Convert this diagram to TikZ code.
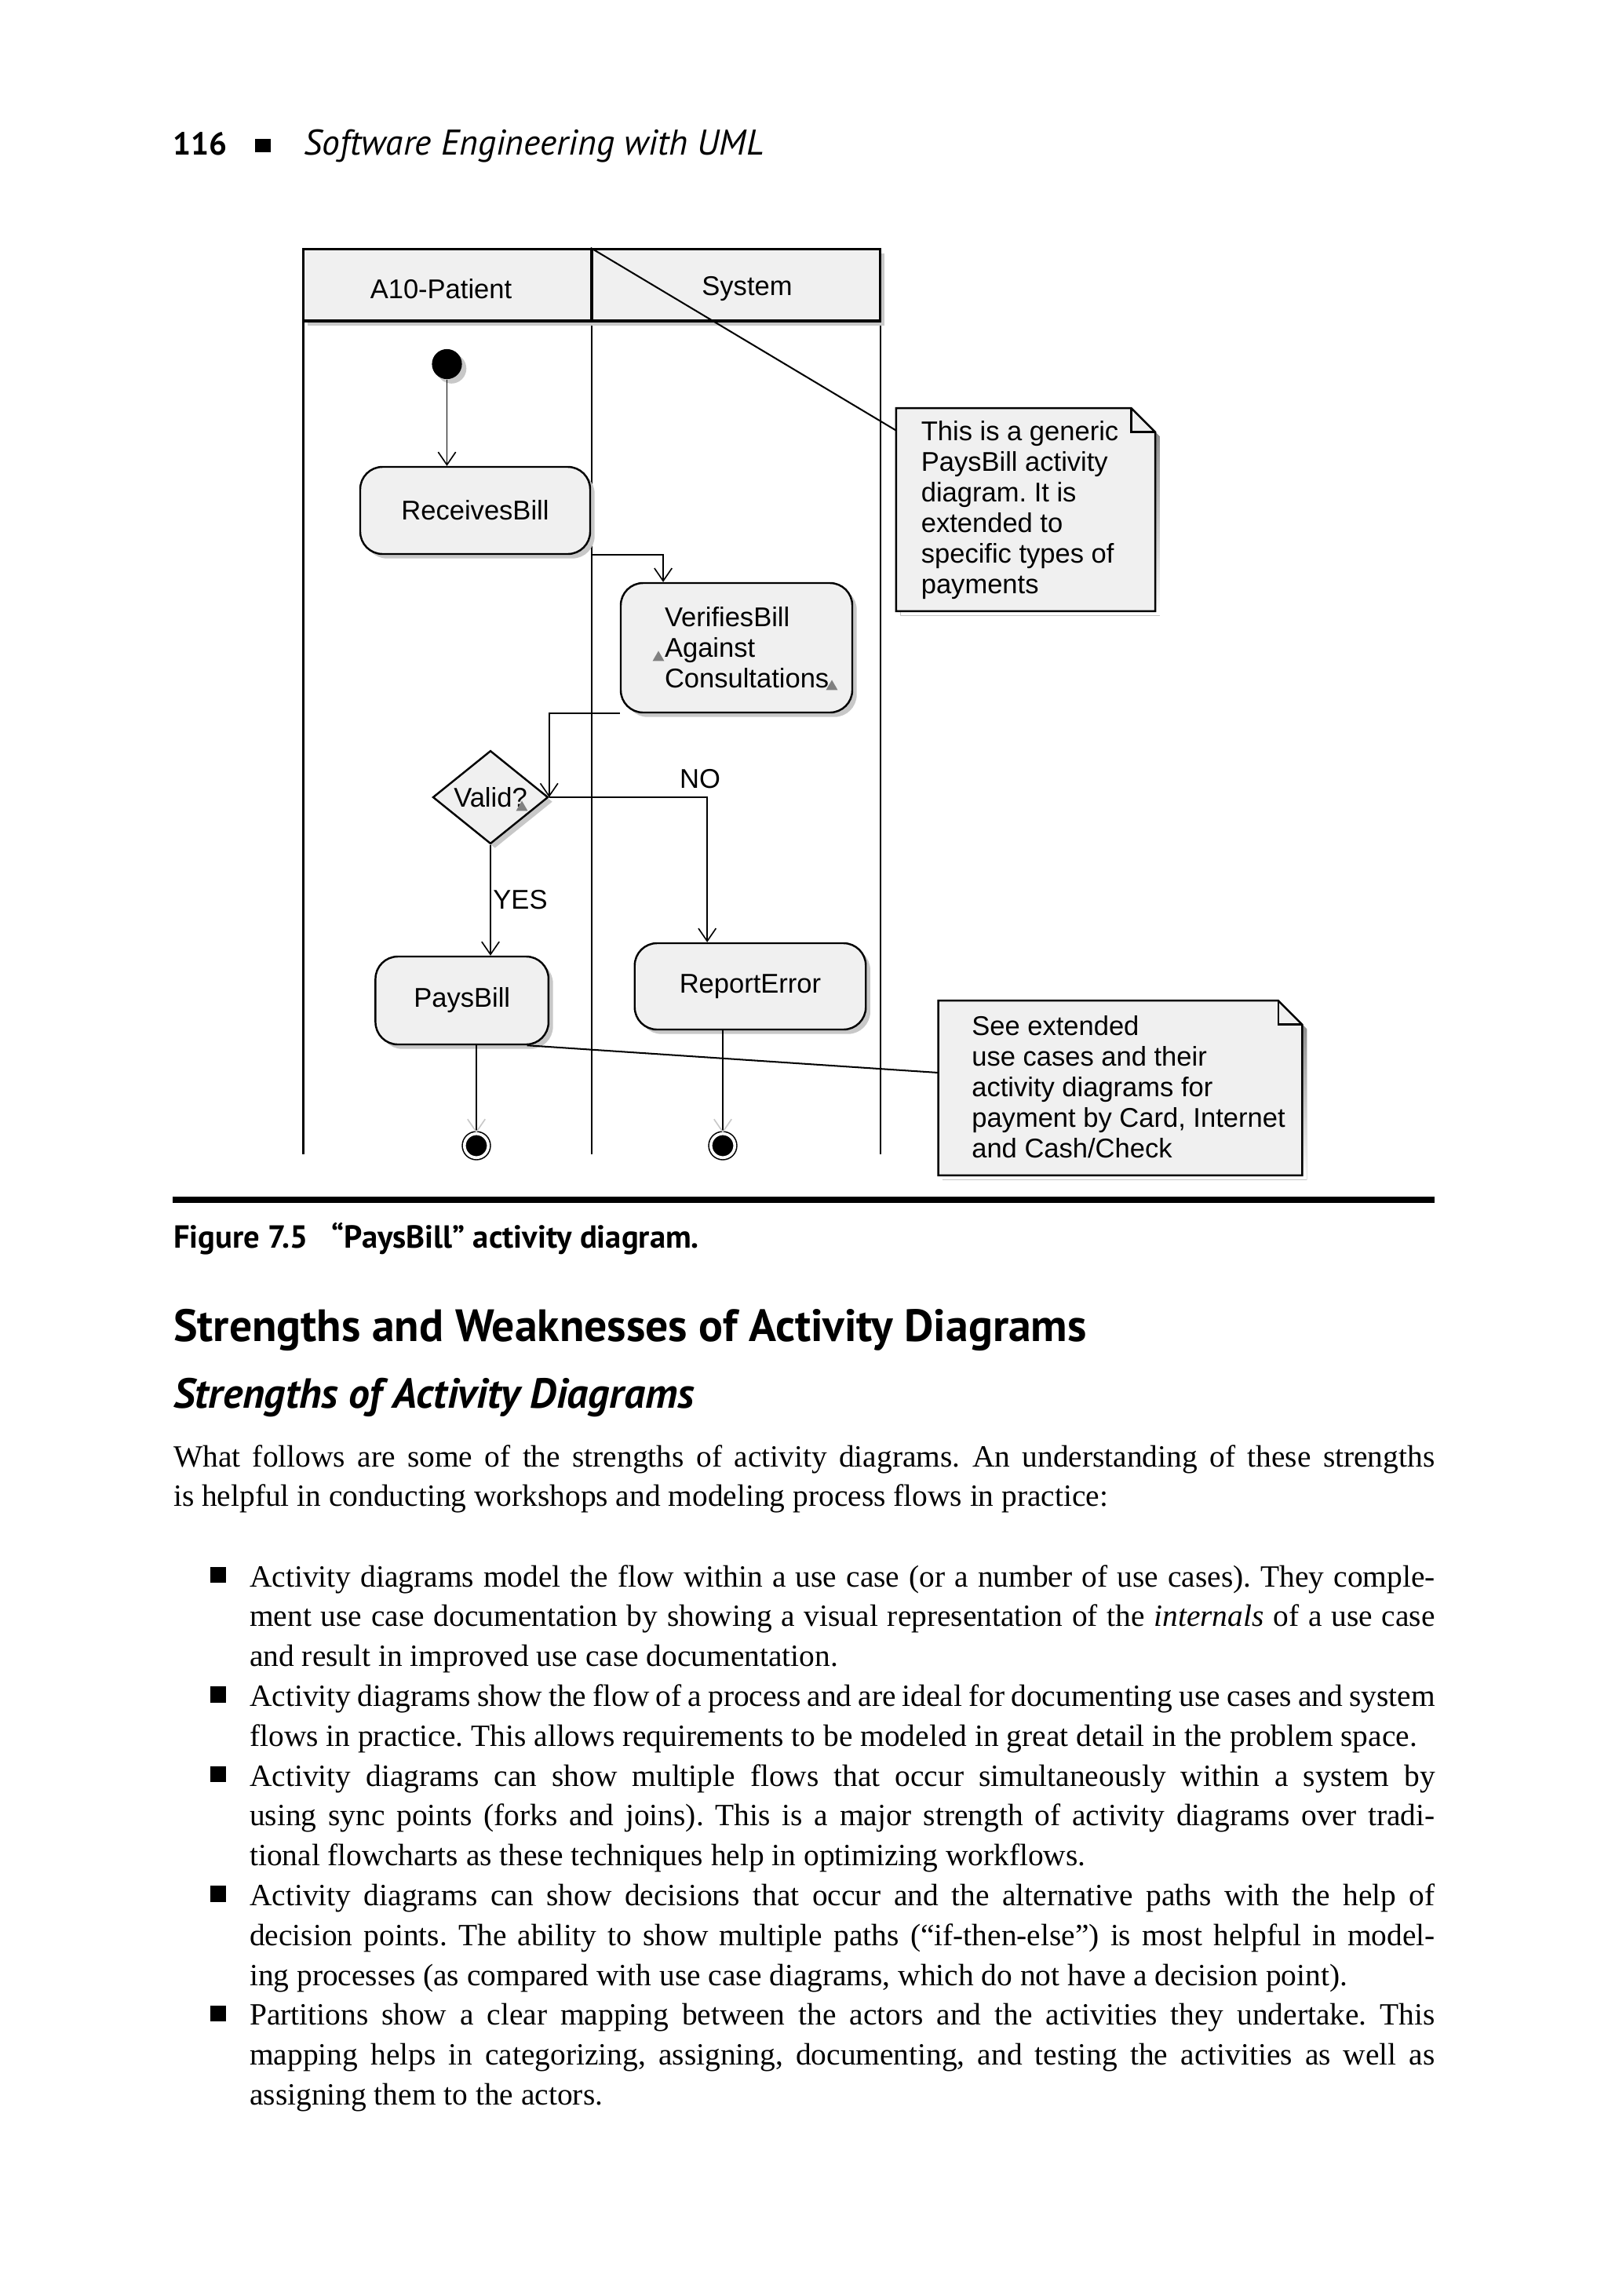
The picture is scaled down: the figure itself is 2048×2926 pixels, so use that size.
\documentclass[tikz,border=0pt]{standalone}
\usepackage{fontspec}
\setmainfont{Liberation Serif}
\newfontfamily\umlfont{Liberation Sans}
\newfontfamily\headfont{PT Sans}
\usetikzlibrary{arrows.meta,shapes.geometric,shadows}
\newdimen\unitpx \unitpx=0.24609375pt
\definecolor{boxfill}{RGB}{240,240,240}
\definecolor{shade}{RGB}{200,200,200}
\tolerance=9999
\frenchspacing

% note box with folded corner, drawn round an empty node
\newcommand{\dognote}[1]{%
  \fill[shade] ([shift={(1.4pt,-1.4pt)}]#1.north west) -- ([shift={(-6.1pt,-1.4pt)}]#1.north east) -- ([shift={(1.4pt,-8.9pt)}]#1.north east) -- ([shift={(1.4pt,-1.4pt)}]#1.south east) -- ([shift={(1.4pt,-1.4pt)}]#1.south west) -- cycle;
  \filldraw[fill=boxfill, line width=0.6pt] (#1.north west) -- ([xshift=-7.5pt]#1.north east) -- ([yshift=-7.5pt]#1.north east) -- (#1.south east) -- (#1.south west) -- cycle;
  \draw[line width=0.6pt] ([xshift=-7.5pt]#1.north east) |- ([yshift=-7.5pt]#1.north east);}

\begin{document}
\begin{tikzpicture}[x=\unitpx, y=-\unitpx, >={Straight Barb[length=4pt,width=5.5pt]},
    uml/.style={font=\umlfont\fontsize{8.5}{9.6}\selectfont},
    shadowed/.style={drop shadow={shadow xshift=1.4pt, shadow yshift=-1.4pt, fill=shade, opacity=1}},
    activity/.style={uml, draw, line width=0.6pt, fill=boxfill, rounded corners=7pt, inner sep=0pt, shadowed},
    decision/.style={uml, diamond, draw, line width=0.6pt, fill=boxfill, minimum width=147\unitpx, minimum height=109\unitpx, inner sep=0pt, shadowed},
    lanehead/.style={draw, line width=0.8pt, fill=boxfill, minimum width=367.5\unitpx, minimum height=91.5\unitpx, inner sep=0pt, shadowed},
    startnode/.style={circle, fill=black, minimum size=9.4pt, inner sep=0pt, shadowed},
    endnode/.style={circle, draw, fill=black, double=white, double distance=0.9pt, line width=0.4pt, minimum size=7.5pt, inner sep=0pt},
    rake/.style={regular polygon, regular polygon sides=3, fill=gray, inner sep=0pt, minimum size=4.2pt},
    notebox/.style={inner sep=0pt},
    notetext/.style={uml, align=left, anchor=west, inner sep=0pt},
    flow/.style={->, line width=0.4pt},
    endflow/.style={-{Straight Barb[length=4pt,width=5.5pt,color=shade]}, line width=0.4pt},
    noteline/.style={line width=0.5pt},
    lane/.style={line width=0.5pt},
    body/.style={font=\fontsize{9.7}{12.5}\selectfont, align=justify, inner sep=0pt, anchor=base west},
    heading/.style={inner sep=0pt, anchor=base west}]
    \fill[white] (0,0) rectangle (2048,2926);
    \useasboundingbox (0,0) rectangle (2048,2926);

    % running head
    \node[heading, font=\headfont\bfseries\fontsize{10}{12}\selectfont] (pagenum) at (220,197) {116};
    \node[fill=black, minimum width=20\unitpx, minimum height=17\unitpx, inner sep=0pt] (headmark) at (335,185) {};
    \node[heading, font=\headfont\itshape\fontsize{11.2}{13}\selectfont] (runhead) at (386.6,197) {Software Engineering with UML};

    % swimlanes
    \foreach \lx in {386.5,754,1122}
        \draw[lane] (\lx,409) -- (\lx,1471);
    \node[lanehead] (patienthead) at (570.25,363.25) {};
    \node[lanehead] (systemhead) at (938,363.25) {};
    \node[uml] (patientlabel) at (562,368) {A10-Patient};
    \node[uml] (systemlabel) at (952,368) {System};

    % notes
    \node[notebox, minimum width=328.5\unitpx, minimum height=257\unitpx] (note1) at (1307,649.5) {};
    \dognote{note1}
    \node[notetext] (note1text) at (1173,650) {This is a generic\\PaysBill activity\\diagram. It is\\extended to\\specific types of\\payments};
    \node[notebox, minimum width=462\unitpx, minimum height=221\unitpx] (note2) at (1427.5,1386.5) {};
    \dognote{note2}
    \node[notetext] (note2text) at (1237.5,1385) {See extended\\use cases and their\\activity diagrams for\\payment by Card, Internet\\and Cash/Check};
    \draw[noteline] (systemhead.north west) -- ([yshift=-7pt]note1.north west);

    % activities
    \node[startnode] (start) at (569.5,464) {};
    \node[activity, minimum width=293\unitpx, minimum height=111\unitpx] (receives) at (605.5,650.5) {ReceivesBill};
    \node[activity, text width=183\unitpx, inner xsep=56\unitpx, minimum height=165\unitpx, align=left] (verifies) at (938.5,825.5) {VerifiesBill\\Against\\Consultations};
    \node[decision] (valid) at (625,1016) {Valid?};
    \node[activity, minimum width=294.5\unitpx, minimum height=110\unitpx] (reporterror) at (956,1257) {ReportError};
    \node[activity, minimum width=220.5\unitpx, minimum height=112\unitpx] (paysbill) at (588.7,1275) {PaysBill};
    \node[endnode] (final1) at (607,1460) {};
    \node[endnode] (final2) at (921,1460) {};
    \node[rake] (rake1) at (839,838) {};
    \node[rake] (rake2) at (1060,875) {};
    \node[rake] (rake3) at (665,1029) {};
    \node[uml] (nolabel) at (892,993) {NO};
    \node[uml] (yeslabel) at (663,1147) {YES};

    \coordinate (vbin) at ([xshift=-23pt]verifies.north);
    \coordinate (rein) at ([xshift=-13.5pt]reporterror.north);
    \draw[flow] (start) -- (start |- receives.north);
    \draw[flow] (receives.south east) -| (vbin);
    \draw[flow] (verifies.south west) -| (valid.east);
    \draw[flow] (valid.east) -| (rein);
    \draw[flow] (valid.south) -- (valid.south |- paysbill.north);
    \draw[endflow] (final1 |- paysbill.south) -- (final1);
    \draw[endflow] (final2 |- reporterror.south) -- (final2);
    \draw[noteline] ([xshift=-7pt]paysbill.south east) -- ([yshift=-22.6pt]note2.north west);

    % caption and text
    \draw[line width=2pt] (220.3,1529) -- (1827.7,1529);
    \node[heading, font=\headfont\bfseries\fontsize{10}{12}\selectfont] (capnum) at (220.3,1590) {Figure 7.5};
    \node[heading, font=\headfont\bfseries\fontsize{10}{12}\selectfont] (captext) at (422,1590) {“PaysBill” activity diagram.};
    \node[heading, font=\headfont\bfseries\fontsize{14.2}{16}\selectfont] (section) at (220.3,1709) {Strengths and Weaknesses of Activity Diagrams};
    \node[heading, font=\headfont\bfseries\itshape\fontsize{13.2}{15}\selectfont] (subsection) at (220.3,1794) {Strengths of Activity Diagrams};
    \node[body, text width=395.5pt] (intro) at (220.3,1869) {What follows are some of the strengths of activity diagrams. An understanding of these strengths\linebreak is helpful in conducting workshops and modeling process flows in practice:};

    \foreach \n/\row/\entry in {
        1/0/{Activity diagrams model the flow within a use case (or a number of use cases). They comple-\linebreak ment use case documentation by showing a visual representation of the \textit{internals} of a use case\linebreak and result in improved use case documentation.},
        2/3/{Activity diagrams show the flow of a process and are ideal for documenting use cases and system\linebreak flows in practice. This allows requirements to be modeled in great detail in the problem space.},
        3/5/{Activity diagrams can show multiple flows that occur simultaneously within a system by\linebreak using sync points (forks and joins). This is a major strength of activity diagrams over tradi-\linebreak tional flowcharts as these techniques help in optimizing workflows.},
        4/8/{Activity diagrams can show decisions that occur and the alternative paths with the help of\linebreak decision points. The ability to show multiple paths (“if-then-else”) is most helpful in model-\linebreak ing processes (as compared with use case diagrams, which do not have a decision point).},
        5/11/{Partitions show a clear mapping between the actors and the activities they undertake. This\linebreak mapping helps in categorizing, assigning, documenting, and testing the activities as well as\linebreak assigning them to the actors.}} {
        \pgfmathsetmacro{\ybase}{2022+\row*50.8}
        \node[fill=black, minimum size=5pt, inner sep=0pt] (mark\n) at (278,\ybase-15) {};
        \node[body, text width=371.7pt] (item\n) at (317.4,\ybase) {\entry};
    }
\end{tikzpicture}
\end{document}
